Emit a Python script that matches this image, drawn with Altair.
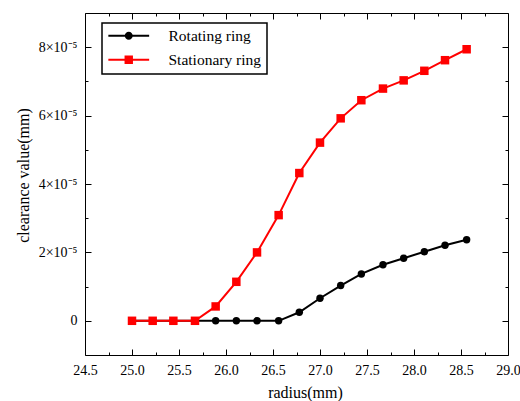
import altair as alt
import pandas as pd

# ---- data ----
radius = [25.0, 25.22, 25.44, 25.67, 25.89, 26.11, 26.33, 26.56, 26.78,
          27.0, 27.22, 27.44, 27.67, 27.89, 28.11, 28.33, 28.56]
rotating = [0, 0, 0, 0, 0, 0, 0, 0, 0.25e-5, 0.66e-5, 1.03e-5, 1.37e-5,
            1.64e-5, 1.83e-5, 2.02e-5, 2.21e-5, 2.37e-5]
stationary = [0, 0, 0, 0, 0.42e-5, 1.14e-5, 2.0e-5, 3.09e-5, 4.32e-5,
              5.21e-5, 5.92e-5, 6.45e-5, 6.79e-5, 7.03e-5, 7.31e-5,
              7.62e-5, 7.94e-5]
series_names = ["Rotating ring", "Stationary ring"]
series_colors = ["black", "red"]

x_major = [24.5, 25.0, 25.5, 26.0, 26.5, 27.0, 27.5, 28.0, 28.5, 29.0]
x_minor = [24.75, 25.25, 25.75, 26.25, 26.75, 27.25, 27.75, 28.25, 28.75]
y_major = [0, 2e-5, 4e-5, 6e-5, 8e-5]
y_minor = [1e-5, 3e-5, 5e-5, 7e-5]

rows = []
for r, a, b in zip(radius, rotating, stationary):
    rows.append({"radius": r, "value": a, "series": series_names[0]})
    rows.append({"radius": r, "value": b, "series": series_names[1]})
df = pd.DataFrame(rows)

FONT = "Liberation Serif"
xscale = alt.Scale(domain=[24.5, 29.0], nice=False, zero=False)
yscale = alt.Scale(domain=[-1e-5, 9e-5], nice=False, zero=False)


def plain_axis(orient, values, size):
    return alt.Axis(orient=orient, values=values, tickSize={"expr": str(-size)},
                    labels=False, domain=False, grid=False, title=None,
                    tickColor="black", tickWidth=1)


x_bottom = alt.Axis(orient="bottom", values=x_major, format=".1f",
                    tickSize={"expr": "-6"}, labelPadding=14, domain=False,
                    grid=False, labelFont=FONT, labelFontSize=14,
                    labelColor="black", tickColor="black", tickWidth=1,
                    labelFlush=False, labelOverlap=False,
                    title="radius(mm)", titleFont=FONT, titleFontSize=16,
                    titleFontWeight="normal", titleColor="black",
                    titleX=220, titleY=37, titleBaseline="middle")
y_left = alt.Axis(orient="left", values=y_major,
                  labelExpr="datum.value == 0 ? '0' : round(datum.value*1e5) + '×10⁻⁵'",
                  tickSize={"expr": "-6"}, labelPadding=14, domain=False,
                  grid=False, labelFont=FONT, labelFontSize=14,
                  labelColor="black", tickColor="black", tickWidth=1,
                  labelOverlap=False,
                  title="clearance value(mm)", titleFont=FONT, titleFontSize=16,
                  titleFontWeight="normal", titleColor="black",
                  titleX=-62, titleY=162, titleBaseline="middle")

base = alt.Chart(df)


def enc(xaxis, yaxis):
    return dict(
        x=alt.X("radius:Q", scale=xscale, axis=xaxis),
        y=alt.Y("value:Q", scale=yscale, axis=yaxis),
    )


black_line = base.transform_filter(
    alt.datum.series == series_names[0]
).mark_line(color=series_colors[0], strokeWidth=2).encode(**enc(x_bottom, y_left))

black_pts = base.transform_filter(
    alt.datum.series == series_names[0]
).mark_point(shape="circle", filled=True, size=55, opacity=1,
             color=series_colors[0]).encode(
    **enc(plain_axis("bottom", x_minor, 3), plain_axis("left", y_minor, 3)))

red_line = base.transform_filter(
    alt.datum.series == series_names[1]
).mark_line(color=series_colors[1], strokeWidth=2).encode(
    **enc(plain_axis("top", x_major, 6), plain_axis("right", y_major, 6)))

red_pts = base.transform_filter(
    alt.datum.series == series_names[1]
).mark_point(shape="square", filled=True, size=72, opacity=1,
             color=series_colors[1]).encode(
    **enc(plain_axis("top", x_minor, 3), plain_axis("right", y_minor, 3)))

circle_path = "M-5.1,-0.25H5.1V0.25H-5.1Z M-1,0A1,1,0,1,1,1,0A1,1,0,1,1,-1,0Z"
square_path = "M-5.1,-0.25H5.1V0.25H-5.1Z M-1.05,-1.05H1.05V1.05H-1.05Z"

legend = alt.Legend(title=None, orient="none", legendX=17, legendY=10,
                    padding=5, strokeColor="black", labelFont=FONT,
                    labelFontSize=15.5, labelColor="black", labelLimit=300,
                    symbolSize=64, symbolOffset=14, labelOffset=32,
                    symbolOpacity=1, symbolStrokeWidth=0, rowPadding=7)

legend_layer = base.mark_point(filled=True, opacity=0).encode(
    x=alt.X("radius:Q", scale=xscale, axis=None),
    y=alt.Y("value:Q", scale=yscale, axis=None),
    color=alt.Color("series:N", sort=series_names,
                    scale=alt.Scale(domain=series_names, range=series_colors),
                    legend=legend),
    shape=alt.Shape("series:N", sort=series_names,
                    scale=alt.Scale(domain=series_names,
                                    range=[circle_path, square_path]),
                    legend=legend),
)

chart = alt.layer(
    black_line, black_pts, red_line, red_pts, legend_layer
).resolve_axis(x="independent", y="independent").properties(
    width=423, height=342,
    autosize=alt.AutoSizeParams(type="none"),
    padding={"left": 85, "top": 13, "right": 12, "bottom": 46},
    background="white",
).configure_view(stroke="black", strokeWidth=1).configure_legend(strokeWidth=1.5)

chart.save("out.html", embed_options={"renderer": "svg", "actions": False})
